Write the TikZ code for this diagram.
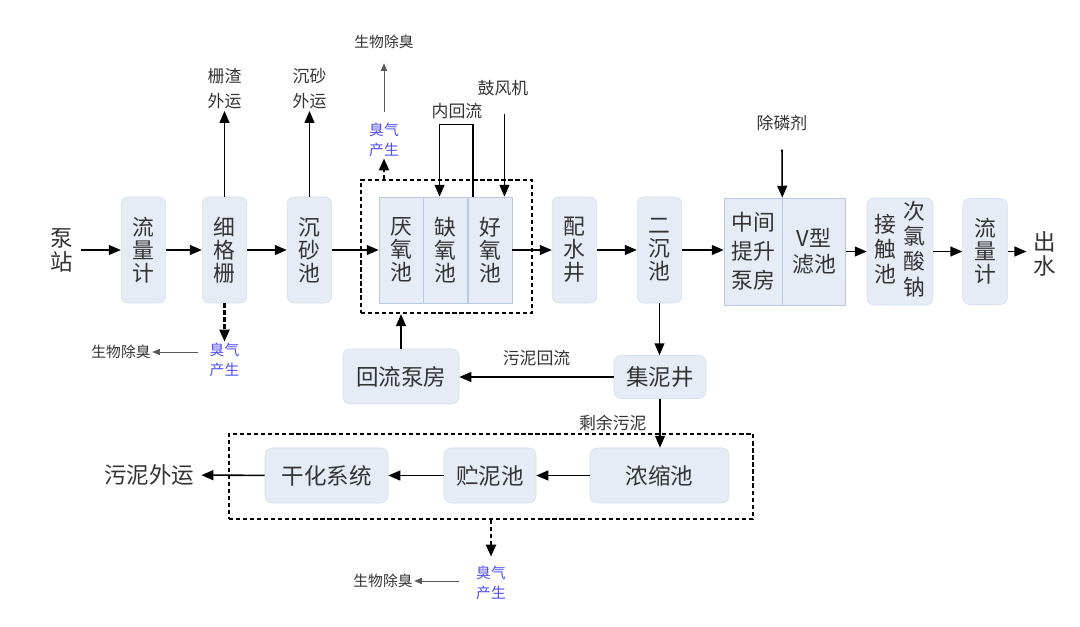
\documentclass[tikz,border=0pt]{standalone}
\usepackage{fontspec}
\setmainfont{Noto Sans CJK SC}
\usetikzlibrary{arrows.meta,positioning,calc}
\definecolor{poolfill}{HTML}{E6ECF6}
\definecolor{poolline}{HTML}{D6DFEE}
\definecolor{tankline}{HTML}{B9C9E4}
\definecolor{labelgray}{HTML}{333333}
\definecolor{odorblue}{HTML}{4F4FF5}

\begin{document}
\begin{tikzpicture}[x=0.025cm, y=-0.025cm,
        pool/.style={rectangle, rounded corners=5pt, draw=poolline, fill=poolfill, text=labelgray, align=center, inner sep=0pt, font=\fontsize{15.5}{16.3}\selectfont, minimum width=1.12cm, minimum height=2.65cm},
        tank/.style={pool, rounded corners=0pt, draw=tankline},
        unitbox/.style={pool, minimum height=1.375cm, font=\fontsize{16}{18}\selectfont},
        dashframe/.style={draw, line width=1.6pt, dash pattern=on 3pt off 2pt, inner sep=0pt},
        big/.style={text=labelgray, align=center, inner sep=5pt, font=\fontsize{16}{17}\selectfont},
        lbl/.style={text=labelgray, align=center, inner sep=1pt, font=\fontsize{12}{17.7}\selectfont},
        small/.style={text=labelgray, inner sep=1pt, font=\fontsize{10.5}{13}\selectfont},
        odor/.style={text=odorblue, align=center, inner sep=1pt, font=\fontsize{10.5}{14}\selectfont},
        arrow/.style={-{Triangle[length=8.5pt,width=7pt]}, line width=1.1pt},
        dasharrow/.style={arrow, line width=1.8pt, dash pattern=on 3pt off 2pt},
        thinarrow/.style={-{Triangle[length=5.5pt,width=4.5pt]}, line width=0.6pt, draw=black!65}
    ]
        \useasboundingbox (0,0) rectangle (1080,626);

        % Main line
        \node[big] (pump) at (62,250) {泵\\站};
        \node[pool] (flow1) at (143.5,250) {流\\量\\计};
        \node[pool] (screen) at (224.5,250) {细\\格\\栅};
        \node[pool] (grit) at (309.5,250) {沉\\砂\\池};
        \node[dashframe, minimum width=4.275cm, minimum height=3.325cm] (bio) at (446.5,246.5) {};
        \node[tank, minimum width=1.1cm] (ana) at (401,250) {厌\\氧\\池};
        \node[tank, minimum width=1.1cm, right=0pt of ana] (anox) {缺\\氧\\池};
        \node[tank, minimum width=1.1cm, right=0pt of anox] (oxic) {好\\氧\\池};
        \node[pool] (dist) at (574.5,250) {配\\水\\井};
        \node[pool] (sec) at (659.5,250) {二\\沉\\池};
        \node[tank, minimum width=1.45cm, minimum height=2.675cm, font=\fontsize{15.5}{20.5}\selectfont] (lift) at (753,251.5) {中间\\提升\\泵房};
        \node[tank, minimum width=1.575cm, minimum height=2.675cm, font=\fontsize{15.5}{18.4}\selectfont, right=0pt of lift] (vfil) {V型\\滤池};
        \node[pool, minimum width=1.65cm, minimum height=2.675cm] (cont) at (900,251.5) {%
            \begin{tabular}[c]{@{}c@{}}接\\触\\池\end{tabular}\hspace{5pt}%
            \begin{tabular}[c]{@{}c@{}}次\\氯\\酸\\钠\end{tabular}};
        \node[pool] (flow2) at (985,251.5) {流\\量\\计};
        \node[big] (outw) at (1045,254) {出\\水};

        \draw[arrow] (pump) -- (flow1);
        \draw[arrow] (flow1) -- (screen);
        \draw[arrow] (screen) -- (grit);
        \draw[arrow] (grit) -- (ana);
        \draw[arrow] (oxic) -- (dist);
        \draw[arrow] (dist) -- (sec);
        \draw[arrow] (sec.east) -- (sec.east -| lift.west);
        \draw[arrow] (vfil) -- (cont);
        \draw[arrow] (cont) -- (flow2);
        \draw[arrow] (flow2.east) -- (flow2.east -| outw.west);

        % Above the line
        \node[lbl] (slag) at (224.5,89) {栅渣\\外运};
        \node[lbl] (sand) at (309.5,89) {沉砂\\外运};
        \draw[arrow] (screen.north) -- (slag.south);
        \draw[arrow] (grit.north) -- (sand.south);

        \node[odor] (odorA) at (384,140) {臭气\\产生};
        \node[small] (deoA) at (384,42) {生物除臭};
        \draw[dasharrow] (bio.north -| odorA) -- (odorA.south);
        \draw[thinarrow, shorten <=7pt, shorten >=9pt] (odorA.north) -- (deoA.south);

        \node[lbl] (ircl) at (457,111) {内回流};
        \draw[arrow] ($(oxic.north west)+(5,0)$) -- ++(0,-72) -| ($(anox.north)+(-6,0)$);

        \node[lbl] (blower) at (503,88) {鼓风机};
        \coordinate (airin) at ($(oxic.north east)+(-8,0)$);
        \draw[arrow] ($(airin |- blower.south)+(0,17)$) -- (airin);

        \node[lbl] (pdose) at (782,123) {除磷剂};
        \draw[arrow] ($(pdose.south)+(0,17)$) -- (lift.north east);

        % Odour at the screen
        \node[odor] (odorB) at (224.5,360) {臭气\\产生};
        \node[small] (deoB) at (121,352) {生物除臭};
        \draw[dasharrow] (screen.south) -- (odorB.north);
        \draw[thinarrow, shorten <=7pt] (odorB.west |- deoB) -- (deoB.east);

        % Sludge return
        \node[unitbox, minimum width=2.9cm] (rpump) at (401,376.5) {回流泵房};
        \node[unitbox, minimum width=2.3cm, minimum height=1.075cm] (swell) at (660,377) {集泥井};
        \draw[arrow] (sec.south) -- (sec.south |- swell.north);
        \draw[arrow] (rpump.north) -- (rpump.north |- bio.south);
        \draw[arrow] (swell.west) -- node[lbl, above=6.5pt] (rflow) {污泥回流} (swell.west -| rpump.east);

        % Sludge treatment
        \node[unitbox, minimum width=3.475cm] (thick) at (659.5,475.5) {浓缩池};
        \node[unitbox, minimum width=2.3cm] (store) at (490,475.5) {贮泥池};
        \node[unitbox, minimum width=3.075cm] (dry) at (326.5,475.5) {干化系统};
        \node[dashframe, minimum width=13.1cm, minimum height=2.125cm] (sludge) at (491,476.5) {};
        \node[big] (sout) at (149,475) {污泥外运};

        \draw[arrow] (swell.south) -- node[lbl, left=8pt] (excess) {剩余污泥} (swell.south |- thick.north);
        \draw[arrow] (thick) -- (store);
        \draw[arrow] (store) -- (dry);
        \draw[arrow] (dry) -- (sout);

        \node[odor] (odorC) at (491,583) {臭气\\产生};
        \node[small] (deoC) at (383,581) {生物除臭};
        \draw[dasharrow] (sludge.south) -- ($(odorC.north)+(0,-8)$);
        \draw[thinarrow, shorten <=11pt] (odorC.west |- deoC) -- (deoC.east);

    \end{tikzpicture}
\end{document}
